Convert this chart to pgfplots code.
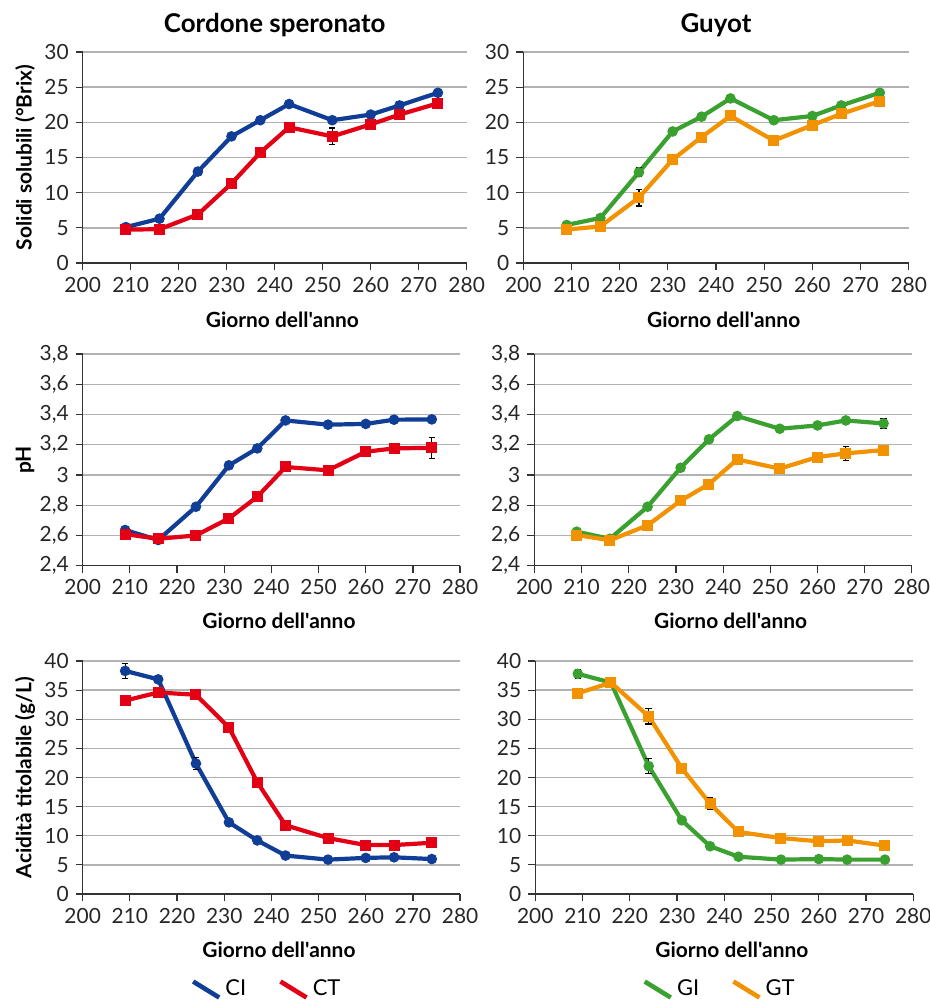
\documentclass[border=0pt]{standalone}
\usepackage{fontspec}
\setmainfont{Lato}[Ligatures=TeXOff]
\usepackage{pgfplots}
\pgfplotsset{compat=1.18}
\usepackage{pgfplotstable}

\definecolor{cblue}{RGB}{16,62,150}
\definecolor{cred}{RGB}{228,0,20}
\definecolor{cgreen}{RGB}{58,160,48}
\definecolor{corange}{RGB}{242,146,0}

% Brix
\pgfplotstableread{
d v e
209 5.1 0.2
216 6.3 0.2
224 13.0 0.5
231 18.0 0.3
237 20.3 0.3
243 22.6 0.3
252 20.3 0.3
260 21.1 0.3
266 22.4 0.5
274 24.2 0.3
}\brixCI
\pgfplotstableread{
d v e
209 4.75 0.2
216 4.8 0.2
224 6.9 0.3
231 11.3 0.6
237 15.7 0.3
243 19.3 0.3
252 18.0 1.2
260 19.7 0.3
266 21.1 0.3
274 22.7 0.6
}\brixCT
\pgfplotstableread{
d v e
209 5.4 0.2
216 6.4 0.2
224 12.9 0.6
231 18.7 0.3
237 20.8 0.2
243 23.4 0.3
252 20.3 0.2
260 20.9 0.2
266 22.4 0.4
274 24.2 0.3
}\brixGI
\pgfplotstableread{
d v e
209 4.75 0.2
216 5.2 0.2
224 9.3 1.2
231 14.7 0.5
237 17.9 0.3
243 20.9 0.3
252 17.4 0.2
260 19.6 0.2
266 21.2 0.4
274 23.0 0.5
}\brixGT
% pH
\pgfplotstableread{
d v e
209 2.636 0.01
216 2.57 0.01
224 2.79 0.015
231 3.064 0.015
237 3.176 0.015
243 3.361 0.01
252 3.333 0.01
260 3.338 0.01
266 3.366 0.01
274 3.368 0.01
}\phCI
\pgfplotstableread{
d v e
209 2.609 0.01
216 2.578 0.01
224 2.60 0.01
231 2.713 0.01
237 2.856 0.01
243 3.053 0.01
252 3.031 0.01
260 3.154 0.01
266 3.176 0.02
274 3.18 0.07
}\phCT
\pgfplotstableread{
d v e
209 2.625 0.01
216 2.578 0.01
224 2.79 0.01
231 3.048 0.01
237 3.236 0.01
243 3.39 0.02
252 3.306 0.01
260 3.328 0.01
266 3.361 0.01
274 3.341 0.035
}\phGI
\pgfplotstableread{
d v e
209 2.603 0.01
216 2.568 0.01
224 2.667 0.01
231 2.83 0.01
237 2.94 0.01
243 3.103 0.01
252 3.042 0.02
260 3.119 0.01
266 3.143 0.045
274 3.165 0.02
}\phGT
% Acidity
\pgfplotstableread{
d v e
209 38.3 1.3
216 36.85 0.3
224 22.4 1.0
231 12.3 0.3
237 9.2 0.3
243 6.6 0.2
252 5.9 0.2
260 6.2 0.2
266 6.3 0.2
274 6.0 0.2
}\acCI
\pgfplotstableread{
d v e
209 33.2 0.3
216 34.6 0.4
224 34.2 0.3
231 28.6 0.8
237 19.2 0.3
243 11.8 0.4
252 9.6 0.3
260 8.4 0.2
266 8.4 0.2
274 8.8 0.8
}\acCT
\pgfplotstableread{
d v e
209 37.8 0.8
216 36.3 0.3
224 21.95 1.3
231 12.65 0.3
237 8.2 0.2
243 6.4 0.2
252 5.9 0.2
260 6.0 0.2
266 5.9 0.2
274 5.9 0.2
}\acGI
\pgfplotstableread{
d v e
209 34.45 0.8
216 36.3 0.3
224 30.5 1.3
231 21.6 0.8
237 15.5 1.0
243 10.65 0.3
252 9.6 0.5
260 9.05 0.3
266 9.2 0.8
274 8.3 0.3
}\acGT

\pgfplotsset{
  panel/.style={
    scale only axis,
    xmin=200, xmax=280, xtick={200,210,...,280},
    enlargelimits=false,
    axis x line*=bottom, axis y line*=left,
    axis line style={-, black!80, line width=0.6bp},
    ymajorgrids, grid style={black!30, line width=0.7bp},
    tick style={black!80, line width=0.6bp},
    tick align=outside, major tick length=3.5bp,
    tick label style={font=\fontsize{10.5}{12}\selectfont, text=black!85},
    /pgf/number format/assume math mode=true,
    /pgf/number format/use comma,
    /pgf/number format/1000 sep={},
    label style={font=\fontsize{10.5}{12}\selectfont\bfseries},
    xlabel={Giorno dell'anno},
    title style={at={(axis description cs:0.5,1.07)}, anchor=center, font=\fontsize{13}{15}\selectfont\bfseries},
    clip=false,
  },
  ser/.style={color=#1, line width=2.1bp,
    mark options={solid, fill=#1, draw=#1, line width=0.5bp},
    error bars/y dir=both, error bars/y explicit,
    error bars/error bar style={black, line width=0.6bp},
    error bars/error mark options={rotate=90, mark size=1.6bp, black, line width=0.6bp}},
  circ/.style={mark=*, mark size=2.4bp, ser=#1},
  sq/.style={mark=square*, mark size=2.5bp, ser=#1},
  leg/.style={legend style={draw=none, fill=none, font=\fontsize{11}{13}\selectfont, legend columns=2,
      /tikz/every even column/.append style={column sep=14bp}},
    legend cell align=left,
    legend image code/.code={\draw[##1, line width=2.3bp] (0bp,4bp) -- (13bp,-4bp);}},
}

\begin{document}
\begin{tikzpicture}
\path[use as bounding box] (0,0) rectangle (465bp,500bp);

% Row 1
\begin{axis}[panel, at={(41.35bp,368.5bp)}, anchor=south west,
  width=192bp, height=105.5bp, ymin=0, ymax=30, ytick={0,5,...,30},
  title={Cordone speronato}, ylabel={Solidi solubili (°Brix)},
  ylabel style={at={(axis description cs:-0.15,0.5)}, anchor=center},
  xlabel style={at={(axis description cs:0.52,-0.27)}, anchor=center}]
\addplot[circ=cblue] table[x=d, y=v, y error=e] {\brixCI};
\addplot[sq=cred] table[x=d, y=v, y error=e] {\brixCT};
\end{axis}
\begin{axis}[panel, at={(261.65bp,368.5bp)}, anchor=south west,
  width=192.7bp, height=105.5bp, ymin=0, ymax=30, ytick={0,5,...,30},
  title={Guyot},
  xlabel style={at={(axis description cs:0.52,-0.27)}, anchor=center}]
\addplot[circ=cgreen] table[x=d, y=v, y error=e] {\brixGI};
\addplot[sq=corange] table[x=d, y=v, y error=e] {\brixGT};
\end{axis}

% Row 2
\begin{axis}[panel, at={(41.35bp,217.15bp)}, anchor=south west,
  width=188.7bp, height=105.8bp, ymin=2.4, ymax=3.8, ytick={2.4,2.6,2.8,3,3.2,3.4,3.6,3.8},
  ylabel={pH},
  ylabel style={at={(axis description cs:-0.153,0.5)}, anchor=center},
  xlabel style={at={(axis description cs:0.52,-0.26)}, anchor=center}]
\addplot[circ=cblue] table[x=d, y=v, y error=e] {\phCI};
\addplot[sq=cred] table[x=d, y=v, y error=e] {\phCT};
\end{axis}
\begin{axis}[panel, at={(267.15bp,217.15bp)}, anchor=south west,
  width=188.8bp, height=105.8bp, ymin=2.4, ymax=3.8, ytick={2.4,2.6,2.8,3,3.2,3.4,3.6,3.8},
  xlabel style={at={(axis description cs:0.52,-0.26)}, anchor=center}]
\addplot[circ=cgreen] table[x=d, y=v, y error=e] {\phGI};
\addplot[sq=corange] table[x=d, y=v, y error=e] {\phGT};
\end{axis}

% Row 3
\begin{axis}[panel, leg, at={(41.35bp,53bp)}, anchor=south west,
  width=188.7bp, height=116.5bp, ymin=0, ymax=40, ytick={0,5,...,40},
  ylabel={Acidità titolabile (g/L)},
  ylabel style={at={(axis description cs:-0.153,0.5)}, anchor=center},
  xlabel style={at={(axis description cs:0.52,-0.24)}, anchor=center},
  legend style={at={(axis description cs:0.49,-0.41)}, anchor=center}]
\addplot[circ=cblue] table[x=d, y=v, y error=e] {\acCI};
\addlegendentry{CI}
\addplot[sq=cred] table[x=d, y=v, y error=e] {\acCT};
\addlegendentry{CT}
\end{axis}
\begin{axis}[panel, leg, at={(267.65bp,53bp)}, anchor=south west,
  width=189bp, height=116.5bp, ymin=0, ymax=40, ytick={0,5,...,40},
  xlabel style={at={(axis description cs:0.52,-0.24)}, anchor=center},
  legend style={at={(axis description cs:0.49,-0.41)}, anchor=center}]
\addplot[circ=cgreen] table[x=d, y=v, y error=e] {\acGI};
\addlegendentry{GI}
\addplot[sq=corange] table[x=d, y=v, y error=e] {\acGT};
\addlegendentry{GT}
\end{axis}
\end{tikzpicture}
\end{document}
